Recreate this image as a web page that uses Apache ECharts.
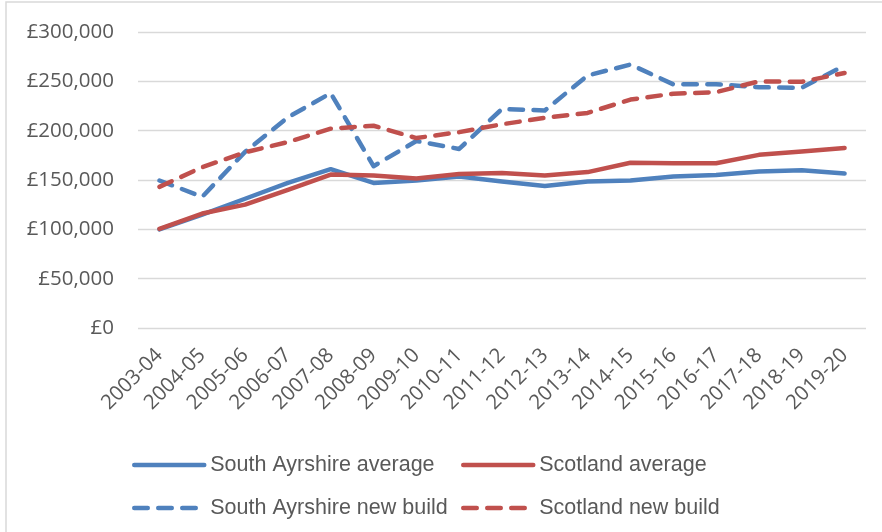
<!DOCTYPE html>
<html>
<head>
<meta charset="utf-8">
<script src="https://cdn.jsdelivr.net/npm/echarts@6/dist/echarts.min.js"></script>
<style>
html, body { margin: 0; padding: 0; background: #fff; }
#main { width: 882px; height: 532px; }
</style>
</head>
<body>
<div id="main"></div>
<script>
// years and house prices (£)
var years = ['2003-04','2004-05','2005-06','2006-07','2007-08','2008-09','2009-10','2010-11','2011-12','2012-13','2013-14','2014-15','2015-16','2016-17','2017-18','2018-19','2019-20'];
var saAverage = [100000,115000,131000,147000,161000,147000,149500,153500,148500,144000,148500,149500,153500,155000,158500,160000,156500];
var scotAverage = [100500,116000,125000,140000,155500,154500,151500,156000,157000,154500,158000,167500,167000,167000,175500,179000,182500];
var saNewBuild = [149500,133000,178500,213500,238000,164000,189500,181500,222000,220500,256000,267000,247000,247000,244000,243500,266000];
var scotNewBuild = [143000,163000,178000,188500,202000,205000,192500,198500,206500,213000,218000,231500,237500,239000,250000,249500,258500];

var blue = '#4F81BD';
var red = '#C0504D';
var dash = [13.5, 10.5];
var axisFont = "'Open Sans', sans-serif";
var legendFont = "'Liberation Sans', Arial, sans-serif";

var myChart = echarts.init(document.getElementById('main'));

function lineSeries(name, data, color, dashed) {
    return {
        name: name,
        type: 'line',
        data: data,
        symbol: 'none',
        smooth: false,
        color: color,
        lineStyle: {
            color: color,
            width: 4.5,
            type: dashed ? dash : 'solid',
            cap: 'round',
            join: 'round'
        }
    };
}

function legendBox(name, left, top, dashed) {
    return {
        data: [name],
        left: left,
        top: top,
        padding: 0,
        itemWidth: 70,
        itemHeight: 14,
        selectedMode: false,
        itemStyle: { opacity: 0 },
        lineStyle: {
            width: 4.5,
            type: dashed ? dash : 'solid',
            cap: 'round'
        },
        textStyle: {
            fontFamily: legendFont,
            fontSize: 21.5,
            color: '#595959',
            padding: [0, 0, 0, 1]
        }
    };
}

var option = {
    animation: false,
    backgroundColor: '#fff',
    graphic: [{
        type: 'rect',
        shape: { x: 6, y: 2, width: 1000, height: 800 },
        style: { fill: 'none', stroke: '#d9d9d9', lineWidth: 1.5 },
        silent: true
    }],
    grid: {
        left: 138,
        right: 16,
        top: 32,
        bottom: 204
    },
    legend: [
        legendBox('South Ayrshire average', 132, 454, false),
        legendBox('Scotland average', 461, 454, false),
        legendBox('South Ayrshire new build', 132, 497, true),
        legendBox('Scotland new build', 461, 497, true)
    ],
    xAxis: {
        type: 'category',
        data: years,
        boundaryGap: true,
        axisLine: { show: false },
        axisTick: { show: false },
        axisLabel: {
            interval: 0,
            rotate: 45,
            margin: 24,
            fontFamily: axisFont,
            fontSize: 20.5,
            color: '#595959'
        }
    },
    yAxis: {
        type: 'value',
        min: 0,
        max: 300000,
        interval: 50000,
        axisLine: { show: false },
        axisTick: { show: false },
        splitLine: { lineStyle: { color: '#d9d9d9', width: 1.3 } },
        axisLabel: {
            margin: 24,
            fontFamily: axisFont,
            fontSize: 20.5,
            color: '#595959',
            formatter: function (v) {
                return '£' + v.toLocaleString('en-GB');
            }
        }
    },
    series: [
        lineSeries('South Ayrshire average', saAverage, blue, false),
        lineSeries('Scotland average', scotAverage, red, false),
        lineSeries('South Ayrshire new build', saNewBuild, blue, true),
        lineSeries('Scotland new build', scotNewBuild, red, true)
    ]
};
myChart.setOption(option);
</script>
</body>
</html>
